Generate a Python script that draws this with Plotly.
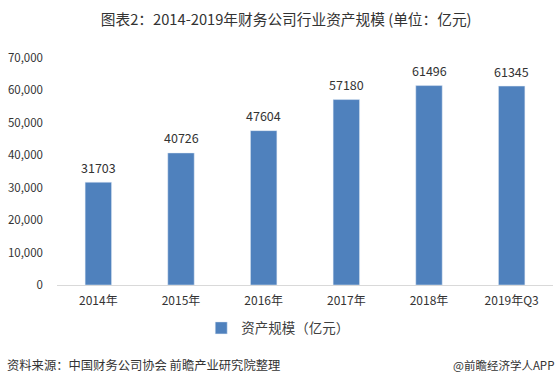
import plotly.graph_objects as go

categories = ["2014年", "2015年", "2016年", "2017年", "2018年", "2019年Q3"]
values = [31703, 40726, 47604, 57180, 61496, 61345]
tick_vals = [0, 10000, 20000, 30000, 40000, 50000, 60000, 70000]
tick_text = ["0", "10,000", "20,000", "30,000", "40,000", "50,000", "60,000", "70,000"]

FONT = "Noto Sans CJK SC"

fig = go.Figure()
fig.add_trace(go.Bar(
    x=categories, y=values, name="资产规模（亿元）",
    marker=dict(color="#4f81bd"),
    hoverinfo="skip",
))

for c, v in zip(categories, values):
    fig.add_annotation(x=c, y=v, text=str(v), showarrow=False,
                       yanchor="middle", yshift=15,
                       font=dict(size=12.5, color="#333333", family=FONT))

fig.update_layout(
    width=559, height=386,
    paper_bgcolor="white", plot_bgcolor="white",
    margin=dict(l=57, r=6, t=58, b=101, autoexpand=False),
    bargap=0.68,
    title=dict(text="图表2：2014-2019年财务公司行业资产规模 (单位：亿元)",
               x=0.512, xanchor="center", y=0.948, yanchor="middle",
               font=dict(size=14.7, color="#333333", family=FONT)),
    font=dict(family=FONT, color="#404040", size=11),
    showlegend=True,
    legend=dict(orientation="h", x=0.445, xanchor="center", y=-0.19, yanchor="middle",
                font=dict(size=13.5, color="#404040", family=FONT),
                itemwidth=30),
    xaxis=dict(showline=True, linecolor="#d9d9d9", linewidth=1, ticks="",
               automargin=False, ticklabelstandoff=5,
               tickfont=dict(size=12, color="#333333")),
    yaxis=dict(range=[0, 70000], tickvals=tick_vals, ticktext=tick_text,
               showgrid=False, zeroline=False, showline=False, ticks="",
               automargin=False, ticklabelstandoff=13,
               tickfont=dict(size=11.5, color="#333333")),
)

fig.add_annotation(text="资料来源：中国财务公司协会 前瞻产业研究院整理", xref="paper", yref="paper",
                   x=-0.105, y=-0.352, xanchor="left", yanchor="middle", showarrow=False,
                   font=dict(size=12.3, color="#333333", family=FONT))
fig.add_annotation(text="@前瞻经济学人APP", xref="paper", yref="paper",
                   x=1.006, y=-0.352, xanchor="right", yanchor="middle", showarrow=False,
                   font=dict(size=11.5, color="#333333", family=FONT))

fig.write_html("out.html", config={"displayModeBar": False},
               post_script="document.body.style.margin='0';")
